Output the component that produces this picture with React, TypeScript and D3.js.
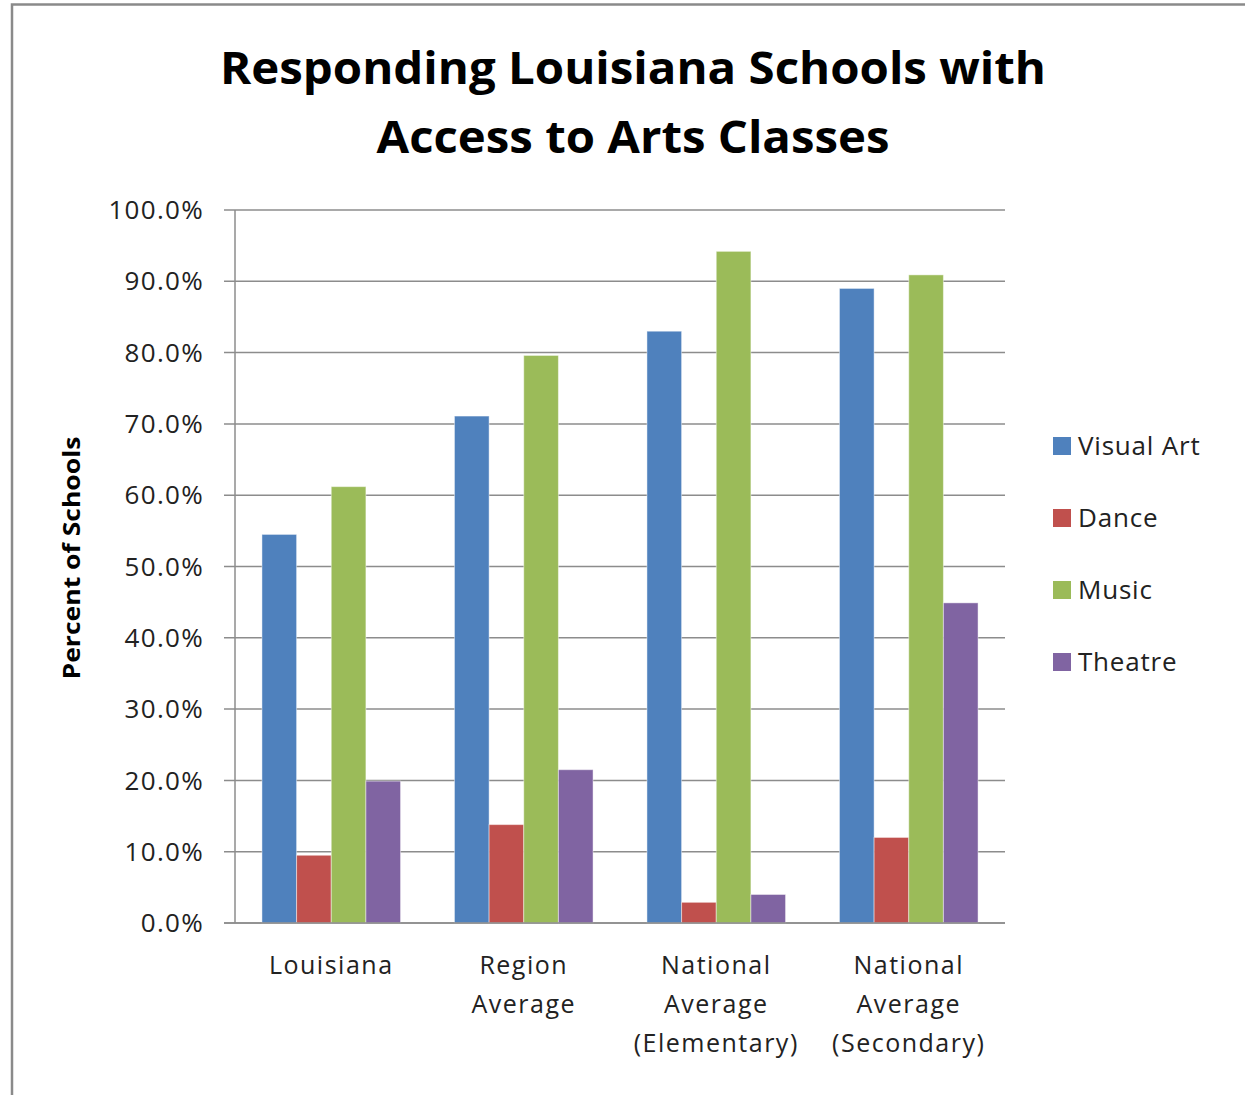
import React from "react";
import * as d3 from "d3";

const categories: string[][] = [
  ["Louisiana"],
  ["Region", "Average"],
  ["National", "Average", "(Elementary)"],
  ["National", "Average", "(Secondary)"],
];
const seriesNames = ["Visual Art", "Dance", "Music", "Theatre"];
const seriesColors = ["#4F81BD", "#C0504D", "#9BBB59", "#8064A2"];
const visualArt = [54.5, 71.1, 83.0, 89.0];
const dance = [9.5, 13.8, 2.9, 12.0];
const music = [61.2, 79.6, 94.2, 90.9];
const theatre = [19.9, 21.5, 4.0, 44.9];
const yTicks = [0, 10, 20, 30, 40, 50, 60, 70, 80, 90, 100];
const titleLines = ["Responding Louisiana Schools with", "Access to Arts Classes"];
const yAxisTitle = "Percent of Schools";

const seriesValues = [visualArt, dance, music, theatre];

export default function App() {
  const W = 1245;
  const H = 1095;
  const plotLeft = 235;
  const plotRight = 1005;
  const plotTop = 210;
  const plotBottom = 923;
  const font = "'Open Sans', 'Noto Sans', sans-serif";

  const catKeys = categories.map((c) => c.join(" "));
  const x0 = d3
    .scaleBand<string>()
    .domain(catKeys)
    .range([plotLeft, plotRight])
    .paddingInner(0.28)
    .paddingOuter(0.14);
  const x1 = d3
    .scaleBand<string>()
    .domain(seriesNames)
    .range([0, x0.bandwidth()]);
  const y = d3.scaleLinear().domain([0, 100]).range([plotBottom, plotTop]);

  return (
    <svg
      width={W}
      height={H}
      style={{ position: "absolute", left: 0, top: 0, background: "#fff" }}
    >
      <rect x={0} y={0} width={W} height={H} fill="#fff" />
      <rect x={12} y={4.5} width={W + 20} height={H + 20} fill="none" stroke="#8a8a8a" strokeWidth={2.5} />

      {/* title */}
      {titleLines.map((t, i) => (
        <text
          key={i}
          x={633}
          y={84 + i * 69}
          textAnchor="middle"
          fontFamily={font}
          fontWeight={700}
          fontSize={44}
          fill="#000"
          textLength={i === 0 ? 826 : 513}
          lengthAdjust="spacingAndGlyphs"
        >
          {t}
        </text>
      ))}

      {/* gridlines + y ticks */}
      {yTicks.map((t) => (
        <g key={t}>
          <line
            x1={224}
            x2={plotRight}
            y1={y(t)}
            y2={y(t)}
            stroke="#8c8c8c"
            strokeWidth={1.5}
          />
          <text
            x={204}
            y={y(t)}
            dy="0.35em"
            textAnchor="end"
            fontFamily={font}
            fontSize={26}
            letterSpacing={1.3}
            fill="#222"
          >
            {t.toFixed(1) + "%"}
          </text>
        </g>
      ))}
      <line x1={plotLeft} x2={plotLeft} y1={plotTop} y2={plotBottom} stroke="#8c8c8c" strokeWidth={1.5} />

      {/* bars */}
      {catKeys.map((c, ci) => (
        <g key={c} transform={`translate(${x0(c)},0)`}>
          {seriesNames.map((s, si) => {
            const v = seriesValues[si][ci];
            return (
              <rect
                key={s}
                x={x1(s)}
                y={y(v)}
                width={x1.bandwidth()}
                height={y(0) - y(v)}
                fill={seriesColors[si]}
                stroke="rgba(255,255,255,0.45)"
                strokeWidth={1}
              />
            );
          })}
        </g>
      ))}
      <line x1={224} x2={plotRight} y1={plotBottom} y2={plotBottom} stroke="#8c8c8c" strokeWidth={1.5} />

      {/* x labels */}
      {categories.map((lines, ci) => (
        <text
          key={ci}
          textAnchor="middle"
          fontFamily={font}
          fontSize={25}
          letterSpacing={1.5}
          fill="#222"
        >
          {lines.map((l, li) => (
            <tspan key={li} x={(x0(catKeys[ci]) as number) + x0.bandwidth() / 2} y={974 + li * 39}>
              {l}
            </tspan>
          ))}
        </text>
      ))}

      {/* y axis title */}
      <text
        transform={`translate(80,558) rotate(-90)`}
        textAnchor="middle"
        fontFamily={font}
        fontWeight={700}
        fontSize={23}
        fill="#000"
        textLength={243}
        lengthAdjust="spacingAndGlyphs"
      >
        {yAxisTitle}
      </text>

      {/* legend */}
      {seriesNames.map((s, si) => (
        <g key={s} transform={`translate(1053,${446 + si * 72})`}>
          <rect x={0} y={-9} width={18} height={18} fill={seriesColors[si]} />
          <text x={25} y={0} dy="0.35em" fontFamily={font} fontSize={26} letterSpacing={0.8} fill="#222">
            {s}
          </text>
        </g>
      ))}
    </svg>
  );
}
